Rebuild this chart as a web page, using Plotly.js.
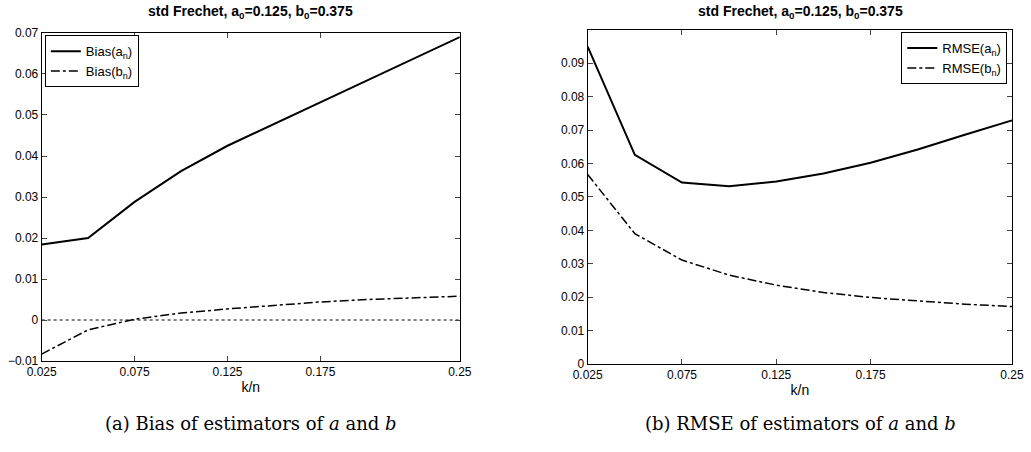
<!DOCTYPE html><html><head><script src="https://cdn.plot.ly/plotly-3.0.1.min.js"></script></head><body style="margin:0">
<div id="c" style="width:1031px;height:452px"></div>
<script>
const kn=[0.025,0.05,0.075,0.1,0.125,0.15,0.175,0.2,0.225,0.25];
const biasA=[0.0184,0.0200,0.0288,0.0363,0.0425,0.0478,0.0532,0.0585,0.0637,0.0690];
const biasB=[-0.0083,-0.0024,0.0002,0.0017,0.0027,0.0036,0.0044,0.0050,0.0054,0.0058];
const rmseA=[0.0950,0.0626,0.0543,0.0532,0.0546,0.0570,0.0602,0.0642,0.0686,0.0729];
const rmseB=[0.0567,0.0390,0.0311,0.0266,0.0236,0.0214,0.0199,0.0188,0.0179,0.0172];
const xt=[0.025,0.075,0.125,0.175,0.25];
const L={color:'black',width:2};
const data=[
{x:kn,y:biasA,name:'Bias(a<sub>n</sub>)',mode:'lines',line:L,xaxis:'x',yaxis:'y',legend:'legend'},
{x:kn,y:biasB,name:'Bias(b<sub>n</sub>)',mode:'lines',line:{color:'black',width:1.5,dash:'dashdot'},xaxis:'x',yaxis:'y',legend:'legend'},
{x:[0.025,0.25],y:[0,0],mode:'lines',line:{color:'black',width:1,dash:'dot'},showlegend:false,xaxis:'x',yaxis:'y'},
{x:kn,y:rmseA,name:'RMSE(a<sub>n</sub>)',mode:'lines',line:L,xaxis:'x2',yaxis:'y2',legend:'legend2'},
{x:kn,y:rmseB,name:'RMSE(b<sub>n</sub>)',mode:'lines',line:{color:'black',width:1.5,dash:'dashdot'},xaxis:'x2',yaxis:'y2',legend:'legend2'}];
const ax={showgrid:false,zeroline:false,showline:true,mirror:'ticks',ticks:'inside',ticklen:5,linecolor:'black',tickfont:{size:12,color:'black'}};
const xa=Object.assign({},ax,{range:[0.025,0.25],tickvals:xt,ticktext:['0.025','0.075','0.125','0.175','0.25'],title:{text:'k/n',standoff:2,font:{size:14,color:'black'}}});
const f={family:'Liberation Sans, Arial, sans-serif',color:'black'};
const layout={margin:{l:0,r:0,t:0,b:0},plot_bgcolor:'white',paper_bgcolor:'white',font:f,
xaxis:Object.assign({},xa,{domain:[0.0404,0.446],anchor:'y'}),
yaxis:Object.assign({},ax,{domain:[0.2013,0.927],range:[-0.01,0.07],dtick:0.01,tickformat:'~g',anchor:'x'}),
xaxis2:Object.assign({},xa,{domain:[0.570,0.9816],anchor:'y2'}),
yaxis2:Object.assign({},ax,{domain:[0.1947,0.934],range:[0,0.1],tickvals:[0,0.01,0.02,0.03,0.04,0.05,0.06,0.07,0.08,0.09],tickformat:'~g',anchor:'x2'}),
legend:{x:0.0435,y:0.922,xanchor:'left',yanchor:'top',bordercolor:'black',borderwidth:1,font:{size:13},tracegroupgap:0},
legend2:{x:0.977,y:0.929,xanchor:'right',yanchor:'top',bordercolor:'black',borderwidth:1,font:{size:13}},
annotations:[
{text:'<b>std Frechet, a<sub>0</sub>=0.125, b<sub>0</sub>=0.375</b>',x:0.243,y:0.973,xanchor:'center',yanchor:'middle',xref:'paper',yref:'paper',showarrow:false,font:{size:14}},
{text:'<b>std Frechet, a<sub>0</sub>=0.125, b<sub>0</sub>=0.375</b>',x:0.776,y:0.973,xanchor:'center',yanchor:'middle',xref:'paper',yref:'paper',showarrow:false,font:{size:14}},
{text:'(a) Bias of estimators of <i>a</i> and <i>b</i>',x:0.243,y:0.063,xanchor:'center',yanchor:'middle',xref:'paper',yref:'paper',showarrow:false,font:{size:18,family:'DejaVu Serif, serif'}},
{text:'(b) RMSE of estimators of <i>a</i> and <i>b</i>',x:0.776,y:0.063,xanchor:'center',yanchor:'middle',xref:'paper',yref:'paper',showarrow:false,font:{size:18,family:'DejaVu Serif, serif'}}]};
Plotly.newPlot('c',data,layout,{staticPlot:true});
</script></body></html>
